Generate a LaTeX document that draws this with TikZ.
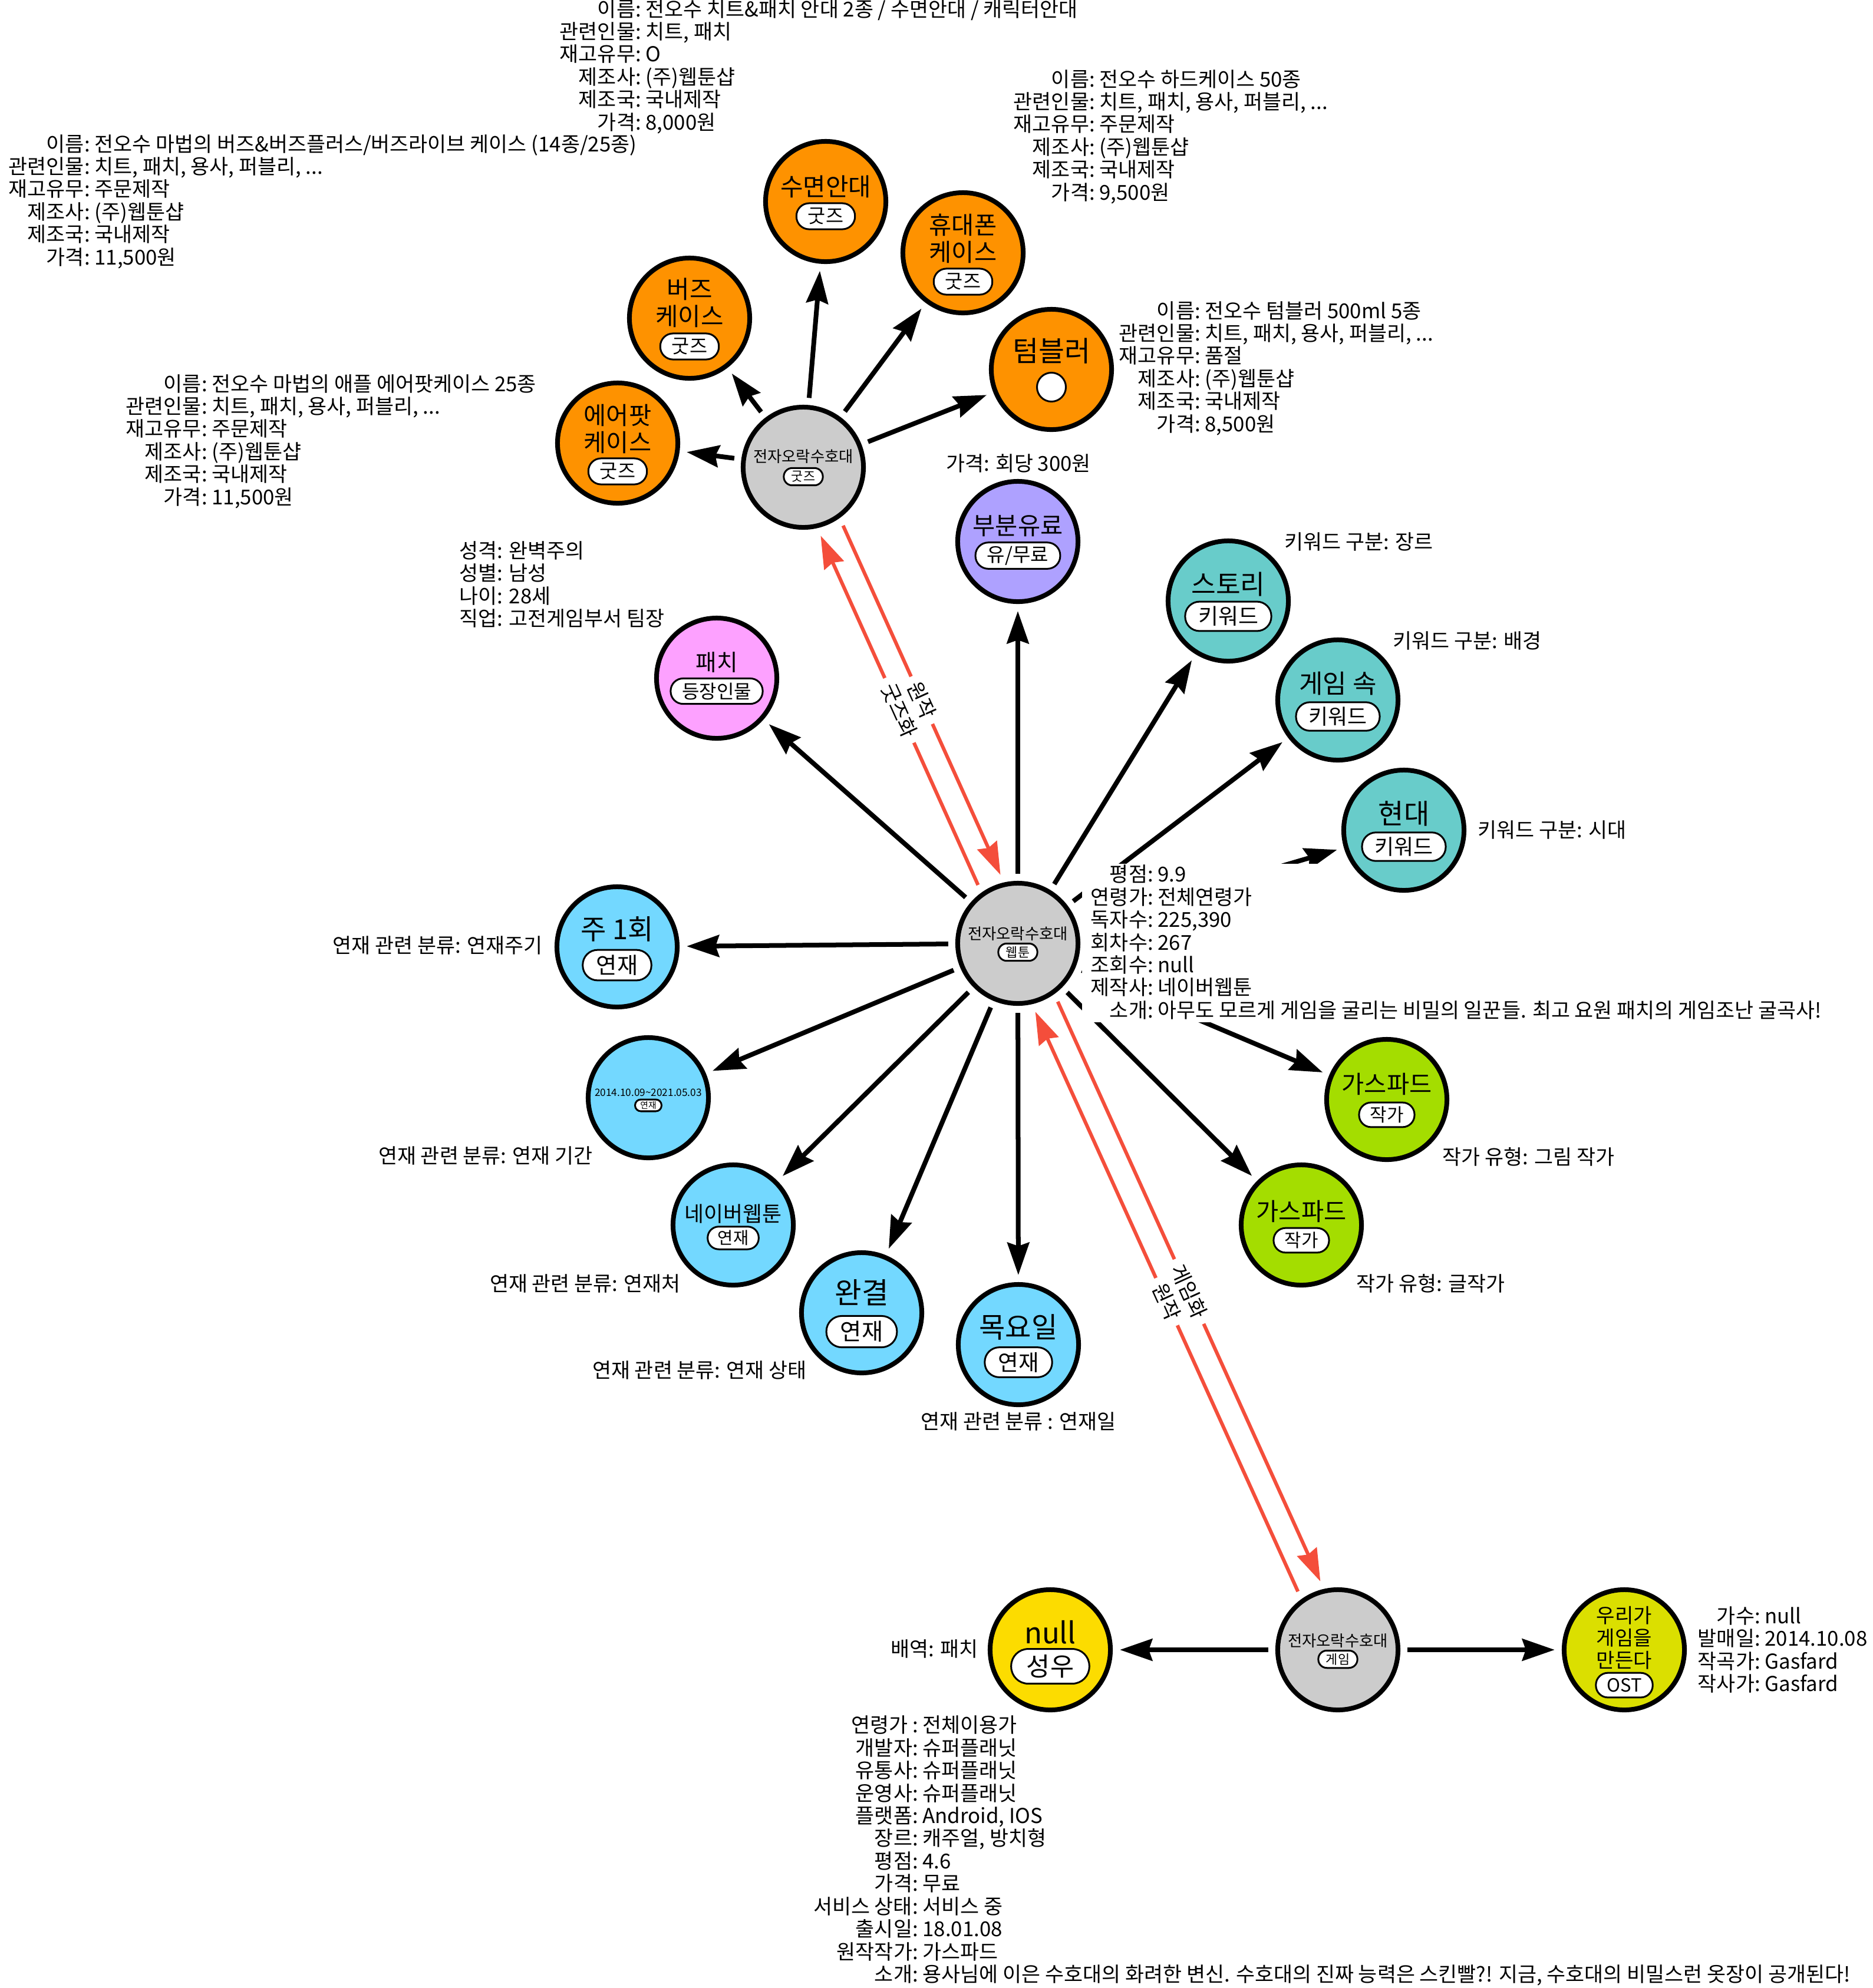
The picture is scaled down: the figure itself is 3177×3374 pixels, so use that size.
\documentclass[tikz,border=0pt]{standalone}
\usepackage{fontspec}
\setmainfont{Noto Sans CJK KR}
\usetikzlibrary{arrows.meta,calc}
\definecolor{cOr}{HTML}{FE9200}
\definecolor{cGy}{HTML}{CCCCCC}
\definecolor{cPu}{HTML}{AEA1FF}
\definecolor{cTe}{HTML}{68CCCA}
\definecolor{cPk}{HTML}{FDA1FF}
\definecolor{cBl}{HTML}{73D8FF}
\definecolor{cGr}{HTML}{A4DD00}
\definecolor{cYe}{HTML}{FCDC00}
\definecolor{cOl}{HTML}{DBDF00}
\definecolor{cRd}{HTML}{F44E3B}
\newcommand\fsz[2]{\fontsize{#1}{#2}\selectfont}
\newcommand\kv[2]{\llap{#1:}\ #2}
\newcommand\infofont{\fontsize{9.9}{10.93}\selectfont}
\pgfdeclarelayer{background}
\pgfsetlayers{background,main}
\begin{document}
\begin{tikzpicture}[x=0.01cm,y=-0.01cm,
  circ/.style={circle, draw, line width=0.08cm, minimum size=2.04cm, inner sep=0pt, outer sep=0.16cm},
  ttl/.style={align=center, inner sep=0pt},
  pill/.style={rectangle, draw, fill=white, line width=0.03cm, font=\fsz{#1}{#1},
     minimum height={1.35*#1pt}, rounded corners={0.66*#1pt}, inner ysep=0pt, inner xsep={0.6*#1pt}},
  info/.style={align=left, inner sep=0pt, anchor=west, font=\infofont},
  lab/.style={inner sep=0pt, font=\infofont},
  arr/.style={line width=0.08cm, -{Stealth[length=0.55cm,width=0.37cm,inset=0.06cm]}},
  redarr/.style={draw=cRd, line width=0.06cm, -{Stealth[length=0.55cm,width=0.36cm,inset=0.05cm]}},
  rlab/.style={midway, sloped, fill=white, inner xsep=0.12cm, inner ysep=0.01cm, font=\infofont}]
\useasboundingbox (0,0) rectangle (3177,3374);

% ---------- goods cluster ----------
\node[circ, fill=cGy] (gc) at (1363,793) {};
\node[ttl, font=\fsz{7.5}{9}] (gcT) at (1363,775) {전자오락수호대};
\node[pill=6.2] (gcP) at (1363,809) {굿즈};

\node[circ, fill=cOr] (air) at (1048,752) {};
\node[ttl, font=\fsz{11.8}{13.2}] (airT) at (1048,728) {에어팟\\케이스};
\node[pill=9.3] (airP) at (1048,800) {굿즈};

\node[circ, fill=cOr] (buds) at (1170,540) {};
\node[ttl, font=\fsz{11.9}{13.2}] (budsT) at (1170,514) {버즈\\케이스};
\node[pill=9.3] (budsP) at (1170,588) {굿즈};

\node[circ, fill=cOr] (eye) at (1401,342) {};
\node[ttl, font=\fsz{11.9}{14}] (eyeT) at (1401,317) {수면안대};
\node[pill=9.3] (eyeP) at (1401,367) {굿즈};

\node[circ, fill=cOr] (phone) at (1634,429) {};
\node[ttl, font=\fsz{11.8}{13.2}] (phoneT) at (1634,405) {휴대폰\\케이스};
\node[pill=9.3] (phoneP) at (1634,478) {굿즈};

\node[circ, fill=cOr] (tumb) at (1784,627) {};
\node[ttl, font=\fsz{13.6}{16}] (tumbT) at (1784,596) {텀블러};
\node[circle, draw, fill=white, line width=0.03cm, minimum size=0.49cm, inner sep=0pt] (tumbP) at (1784,657) {};

% ---------- webtoon cluster ----------
\node[circ, fill=cGy] (wt) at (1727,1601) {};
\node[ttl, font=\fsz{7.5}{9}] (wtT) at (1727,1585) {전자오락수호대};
\node[pill=6.2] (wtP) at (1727,1616) {웹툰};

\node[circ, fill=cPu] (part) at (1727,919) {};
\node[ttl, font=\fsz{11.8}{14}] (partT) at (1727,893) {부분유료};
\node[pill=9.4] (partP) at (1727,943) {유/무료};

\node[circ, fill=cTe] (story) at (2084,1020) {};
\node[ttl, font=\fsz{12.9}{15}] (storyT) at (2084,992) {스토리};
\node[pill=10.5] (storyP) at (2084,1046) {키워드};

\node[circ, fill=cTe] (ingame) at (2270,1188) {};
\node[ttl, font=\fsz{12.5}{15}] (ingameT) at (2270,1160) {게임 속};
\node[pill=10.2] (ingameP) at (2270,1216) {키워드};

\node[circ, fill=cTe] (modern) at (2382,1409) {};
\node[ttl, font=\fsz{13.4}{16}] (modernT) at (2382,1381) {현대};
\node[pill=10.2] (modernP) at (2382,1437) {키워드};

\node[circ, fill=cPk] (patch) at (1216,1151) {};
\node[ttl, font=\fsz{11}{13}] (patchT) at (1216,1124) {패치};
\node[pill=9.1] (patchP) at (1216,1173) {등장인물};

\node[circ, fill=cBl] (week) at (1047,1607) {};
\node[ttl, font=\fsz{13.4}{16}] (weekT) at (1047,1577) {주 1회};
\node[pill=10.9] (weekP) at (1047,1638) {연재};

\node[circ, fill=cBl] (period) at (1100,1863) {};
\node[ttl, font=\fsz{4.9}{6}] (periodT) at (1100,1854) {2014.10.09\textasciitilde 2021.05.03};
\node[pill=4.2] (periodP) at (1100,1876) {연재};

\node[circ, fill=cBl] (naver) at (1244,2079) {};
\node[ttl, font=\fsz{10.2}{12}] (naverT) at (1244,2060) {네이버웹툰};
\node[pill=8.1] (naverP) at (1244,2101) {연재};

\node[circ, fill=cBl] (done) at (1462,2228) {};
\node[ttl, font=\fsz{14.1}{17}] (doneT) at (1462,2194) {완결};
\node[pill=11.2] (doneP) at (1462,2260) {연재};

\node[circ, fill=cBl] (thu) at (1728,2282) {};
\node[ttl, font=\fsz{13.7}{16}] (thuT) at (1728,2252) {목요일};
\node[pill=10.7] (thuP) at (1728,2312) {연재};

\node[circ, fill=cGr] (gasA) at (2353,1866) {};
\node[ttl, font=\fsz{11.8}{14}] (gasAT) at (2353,1840) {가스파드};
\node[pill=8.8] (gasAP) at (2353,1892) {작가};

\node[circ, fill=cGr] (gasB) at (2208,2079) {};
\node[ttl, font=\fsz{11.8}{14}] (gasBT) at (2208,2056) {가스파드};
\node[pill=8.8] (gasBP) at (2208,2105) {작가};

% ---------- game cluster ----------
\node[circ, fill=cGy] (gm) at (2270,2800) {};
\node[ttl, font=\fsz{7.5}{9}] (gmT) at (2270,2785) {전자오락수호대};
\node[pill=6.2] (gmP) at (2270,2816) {게임};

\node[circ, fill=cYe] (va) at (1782,2800) {};
\node[ttl, font=\fsz{14}{16}] (vaT) at (1782,2770) {null};
\node[pill=12.4] (vaP) at (1782,2828) {성우};

\node[circ, fill=cOl] (ost) at (2756,2800) {};
\node[ttl, font=\fsz{9.7}{10.8}] (ostT) at (2756,2780) {우리가\\게임을\\만든다};
\node[pill=8.8] (ostP) at (2756,2860) {OST};

% ---------- texts ----------
\node[info] (iEye) at (1087,113) {\kv{이름}{전오수 치트\&패치 안대 2종 / 수면안대 / 캐릭터안대}\\\kv{관련인물}{치트, 패치}\\\kv{재고유무}{O}\\\kv{제조사}{(주)웹툰샵}\\\kv{제조국}{국내제작}\\\kv{가격}{8,000원}};
\node[info] (iPhone) at (1857,232) {\kv{이름}{전오수 하드케이스 50종}\\\kv{관련인물}{치트, 패치, 용사, 퍼블리, ...}\\\kv{재고유무}{주문제작}\\\kv{제조사}{(주)웹툰샵}\\\kv{제조국}{국내제작}\\\kv{가격}{9,500원}};
\node[info] (iTumb) at (2036,625) {\kv{이름}{전오수 텀블러 500ml 5종}\\\kv{관련인물}{치트, 패치, 용사, 퍼블리, ...}\\\kv{재고유무}{품절}\\\kv{제조사}{(주)웹툰샵}\\\kv{제조국}{국내제작}\\\kv{가격}{8,500원}};
\node[info] (iBuds) at (152,342) {\kv{이름}{전오수 마법의 버즈\&버즈플러스/버즈라이브 케이스 (14종/25종)}\\\kv{관련인물}{치트, 패치, 용사, 퍼블리, ...}\\\kv{재고유무}{주문제작}\\\kv{제조사}{(주)웹툰샵}\\\kv{제조국}{국내제작}\\\kv{가격}{11,500원}};
\node[info] (iAir) at (351,749) {\kv{이름}{전오수 마법의 애플 에어팟케이스 25종}\\\kv{관련인물}{치트, 패치, 용사, 퍼블리, ...}\\\kv{재고유무}{주문제작}\\\kv{제조사}{(주)웹툰샵}\\\kv{제조국}{국내제작}\\\kv{가격}{11,500원}};
\node[lab] (iPart) at (1728,786) {가격: 회당 300원};
\node[info] (iPatch) at (779,992) {성격: 완벽주의\\성별: 남성\\나이: 28세\\직업: 고전게임부서 팀장};
\node[lab, anchor=west] (iStory) at (2179,919) {키워드 구분: 장르};
\node[lab, anchor=west] (iIngame) at (2363,1087) {키워드 구분: 배경};
\node[lab, anchor=west] (iModern) at (2507,1408) {키워드 구분: 시대};
\node[lab, anchor=east] (iWeek) at (921,1604) {연재 관련 분류: 연재주기};
\node[lab] (iPeriod) at (824,1961) {연재 관련 분류: 연재 기간};
\node[lab] (iNaver) at (993,2178) {연재 관련 분류: 연재처};
\node[lab] (iDone) at (1187,2325) {연재 관련 분류: 연재 상태};
\node[lab] (iThu) at (1728,2412) {연재 관련 분류 : 연재일};
\node[lab, anchor=west] (iGasA) at (2447,1963) {작가 유형: 그림 작가};
\node[lab, anchor=west] (iGasB) at (2301,2178) {작가 유형: 글작가};
\node[lab, anchor=east] (iVa) at (1660,2798) {배역: 패치};
\node[info] (iOst) at (2986,2800) {\kv{가수}{null}\\\kv{발매일}{2014.10.08}\\\kv{작곡가}{Gasfard}\\\kv{작사가}{Gasfard}};
\node[info] (iWt) at (1956,1599) {\kv{평점}{9.9}\\\kv{연령가}{전체연령가}\\\kv{독자수}{225,390}\\\kv{회차수}{267}\\\kv{조회수}{null}\\\kv{제작사}{네이버웹툰}\\\kv{소개}{아무도 모르게 게임을 굴리는 비밀의 일꾼들. 최고 요원 패치의 게임조난 굴곡사!}};
\node[info] (iGm) at (1557,3141) {\kv{연령가 }{전체이용가}\\\kv{개발자}{슈퍼플래닛}\\\kv{유통사}{슈퍼플래닛}\\\kv{운영사}{슈퍼플래닛}\\\kv{플랫폼}{Android, IOS}\\\kv{장르}{캐주얼, 방치형}\\\kv{평점}{4.6}\\\kv{가격}{무료}\\\kv{서비스 상태}{서비스 중}\\\kv{출시일}{18.01.08}\\\kv{원작작가}{가스파드}\\\kv{소개}{용사님에 이은 수호대의 화려한 변신. 수호대의 진짜 능력은 스킨빨?! 지금, 수호대의 비밀스런 옷장이 공개된다!}};

% ---------- connectors ----------
\begin{pgfonlayer}{background}
\foreach \t in {air,buds,eye,phone,tumb} \draw[arr] (gc) -- (\t);
\foreach \t in {part,story,ingame,modern,gasA,gasB,thu,done,naver,period,week,patch} \draw[arr] (wt) -- (\t);
\draw[arr] (gm) -- (va);
\draw[arr] (gm) -- (ost);
\draw[redarr, transform canvas={xshift=-0.19cm,yshift=-0.086cm}] (wt) -- node[rlab] (rl1) {굿즈화} (gc);
\draw[redarr, transform canvas={xshift=0.19cm,yshift=0.086cm}] (gc) -- node[rlab] (rl2) {원작} (wt);
\draw[redarr, transform canvas={xshift=0.19cm,yshift=0.086cm}] (wt) -- node[rlab] (rl3) {게임화} (gm);
\draw[redarr, transform canvas={xshift=-0.19cm,yshift=-0.086cm}] (gm) -- node[rlab] (rl4) {원작} (wt);
\fill[white] (1836,1466) rectangle (3125,1735);
\end{pgfonlayer}
\end{tikzpicture}
\end{document}
